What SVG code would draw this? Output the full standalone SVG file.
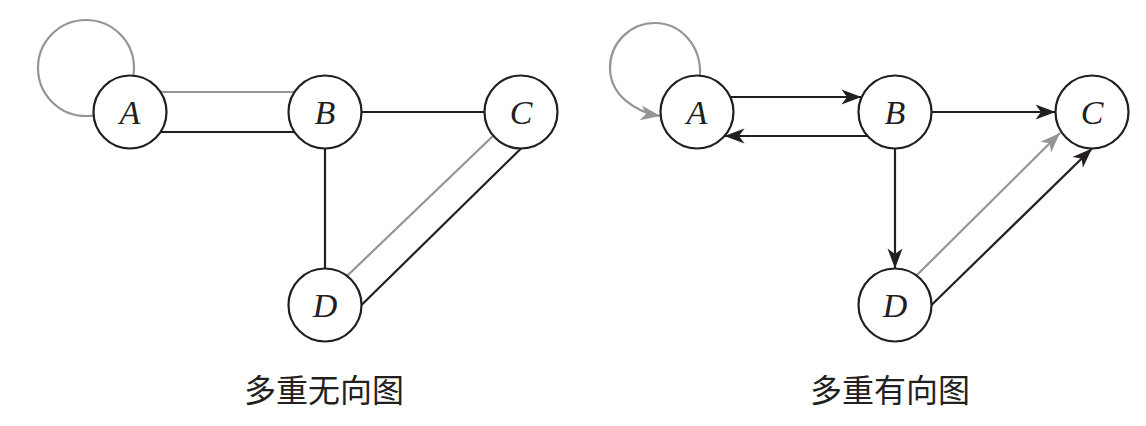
<svg xmlns="http://www.w3.org/2000/svg" width="1146" height="426" viewBox="0 0 1146 426">
<style>
.edge{stroke:#231f20;stroke-width:2.2;fill:none}
.gray{stroke:#939598;stroke-width:2.2;fill:none}
.node circle{fill:#fff;stroke:#231f20;stroke-width:2.2}
.node text{font-family:"Liberation Serif",serif;font-style:italic;font-size:34px;fill:#231f20;text-anchor:middle}
.cap{font-family:"Noto Sans CJK SC",sans-serif;font-size:32px;fill:#231f20;text-anchor:middle}
</style>
<defs>
<marker id="ah" markerUnits="userSpaceOnUse" markerWidth="22" markerHeight="18" viewBox="-21 -9 22 18" refX="0" refY="0" orient="auto">
<path d="M0,0 L-20,-7.5 L-14.5,0 L-20,7.5 Z" fill="#231f20"/>
</marker>
<marker id="ahg" markerUnits="userSpaceOnUse" markerWidth="22" markerHeight="18" viewBox="-21 -9 22 18" refX="0" refY="0" orient="auto">
<path d="M0,0 L-20,-7.5 L-14.5,0 L-20,7.5 Z" fill="#939598"/>
</marker>
</defs>
<g id="connectors">
<circle class="gray" cx="86" cy="68" r="48"/>
<line class="gray" x1="130" y1="92" x2="325" y2="92"/>
<line class="edge" x1="130" y1="132" x2="325" y2="132"/>
<line class="edge" x1="325" y1="112" x2="521" y2="112"/>
<line class="edge" x1="325" y1="112" x2="325" y2="305"/>
<line class="gray" x1="347" y1="276" x2="494" y2="135"/>
<line class="edge" x1="361.5" y1="305" x2="521" y2="148.5"/>
<path class="gray" d="M700,77 C702,45 680,23 655,23 C630,23 610,43 610,68 C610,95 635,112 660.5,116" marker-end="url(#ahg)"/>
<line class="edge" x1="731" y1="97" x2="861.5" y2="97" marker-end="url(#ah)"/>
<line class="edge" x1="867.5" y1="136" x2="724.5" y2="136" marker-end="url(#ah)"/>
<line class="edge" x1="931.5" y1="112" x2="1055.5" y2="112" marker-end="url(#ah)"/>
<line class="edge" x1="895" y1="148.5" x2="895" y2="268.5" marker-end="url(#ah)"/>
<line class="gray" x1="917" y1="275" x2="1060" y2="133" marker-end="url(#ahg)"/>
<line class="edge" x1="931.5" y1="305" x2="1092" y2="148.5" marker-end="url(#ah)"/>
</g>
<g id="L_A" class="node"><circle cx="130" cy="112" r="36.5"/><text x="130" y="124">A</text></g>
<g id="L_B" class="node"><circle cx="325" cy="112" r="36.5"/><text x="325" y="124">B</text></g>
<g id="L_C" class="node"><circle cx="521" cy="112" r="36.5"/><text x="521" y="124">C</text></g>
<g id="L_D" class="node"><circle cx="325" cy="305" r="36.5"/><text x="325" y="317">D</text></g>
<g id="R_A" class="node"><circle cx="697" cy="112" r="36.5"/><text x="697" y="124">A</text></g>
<g id="R_B" class="node"><circle cx="895" cy="112" r="36.5"/><text x="895" y="124">B</text></g>
<g id="R_C" class="node"><circle cx="1092" cy="112" r="36.5"/><text x="1092" y="124">C</text></g>
<g id="R_D" class="node"><circle cx="895" cy="305" r="36.5"/><text x="895" y="317">D</text></g>
<text class="cap" x="324" y="402">多重无向图</text>
<text class="cap" x="890" y="402">多重有向图</text>
</svg>
